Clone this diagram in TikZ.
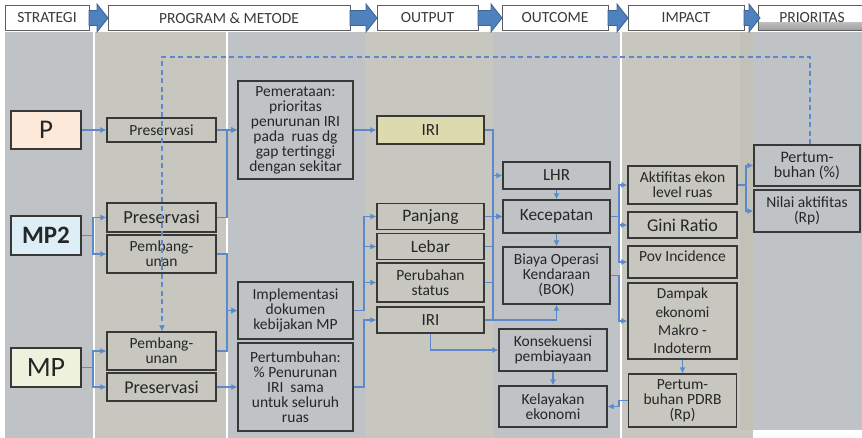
\documentclass[tikz,border=0pt]{standalone}
\usepackage{fontspec}
\setmainfont{Carlito}
\usetikzlibrary{arrows.meta}

\definecolor{colblue}{HTML}{BFC3C6}
\definecolor{colbeige}{HTML}{C7C7BF}
\definecolor{colbeigeb}{HTML}{C1C1B8}
\definecolor{boxline}{HTML}{383838}
\definecolor{txt}{HTML}{262626}
\definecolor{hdrtxt}{HTML}{3A3A3A}
\definecolor{hdrline}{HTML}{5F5F5F}
\definecolor{link}{HTML}{5A8ACB}
\definecolor{arrfill}{HTML}{4F81BD}
\definecolor{arrline}{HTML}{3A6496}
\definecolor{pfill}{HTML}{FDE9D9}
\definecolor{mptwofill}{HTML}{DDEEF6}
\definecolor{mpfill}{HTML}{EEF2DC}
\definecolor{irifill}{HTML}{DCDAAE}

\begin{document}
\begin{tikzpicture}[x=1pt,y=-1pt,
  box/.style={draw=boxline, line width=1.2pt, inner sep=0pt, align=center, text=txt,
              font=\fontsize{15.5}{15}\selectfont},
  hbox/.style={draw=hdrline, line width=1pt, fill=white, text=hdrtxt, inner sep=0pt,
               minimum height=25, font=\fontsize{15.5}{15}\selectfont},
  harrow/.style={fill=arrfill, draw=arrline, line width=0.8pt, line join=miter},
  wire/.style={draw=link, line width=1.3pt},
  conn/.style={wire, -{Latex[length=6pt,width=6pt]}},
  dconn/.style={conn, line width=1.5pt, dash pattern=on 5pt off 3.5pt}]

\useasboundingbox (0,0) rectangle (862,438);

% column bands
\fill[white] (0,0) rectangle (862,438);
\fill[colblue]  (5,32)   rectangle (92.5,438);
\fill[colbeige] (94.5,32) rectangle (225.5,438);
\fill[colblue]  (227.5,32) rectangle (365,438);
\fill[colbeige] (365,32) rectangle (493,438);
\fill[colblue]  (493,32) rectangle (620,438);
\fill[colbeige] (622,32) rectangle (753,438);
\fill[colbeigeb] (740,32) rectangle (753,430);
\fill[colblue]  (753,32) rectangle (862,430);

% header row
\node[hbox, minimum width=84]  (hStrat) at (47,18)    {STRATEGI};
\node[hbox, minimum width=242] (hProg)  at (229,18)   {PROGRAM \& METODE};
\node[hbox, minimum width=101] (hOut)   at (427.5,18) {OUTPUT};
\node[hbox, minimum width=106] (hOutc)  at (555,18)   {OUTCOME};
\node[hbox, minimum width=116] (hImp)   at (686,18)   {IMPACT};
\node[hbox, minimum width=108, path picture={
        \fill[top color=white, bottom color=black!38]
          ([yshift=8pt]path picture bounding box.south west)
          rectangle (path picture bounding box.south east);}]
     (hPrio) at (812,18) {PRIORITAS};
\foreach \a/\b in {89/108, 350/377, 478/502, 608/628, 744/760}
  \draw[harrow] (\a,10.5) -- ({\b-11},10.5) -- ({\b-11},4) -- (\b,18)
                -- ({\b-11},32) -- ({\b-11},25.5) -- (\a,25.5) -- cycle;

% strategies
\node[box, fill=pfill, minimum width=70, minimum height=38,
      font=\fontsize{27}{27}\selectfont] (sP) at (46,130) {P};
\node[box, fill=mptwofill, minimum width=70, minimum height=39,
      font=\fontsize{25}{25}\bfseries\selectfont] (sMPtwo) at (46,235.5) {MP2};
\node[box, fill=mpfill, minimum width=70, minimum height=39,
      font=\fontsize{28}{28}\selectfont] (sMP) at (46,367.5) {MP};

% programs
\node[box, minimum width=109, minimum height=24] (pPres) at (161.5,130) {Preservasi};
\node[box, minimum width=109, minimum height=29,
      font=\fontsize{18.5}{18}\selectfont] (pPresB) at (161.5,217.5) {Preservasi};
\node[box, minimum width=109, minimum height=38] (pPembB) at (161.5,254) {Pembang-\\unan};
\node[box, minimum width=109, minimum height=38] (pPembC) at (161.5,351) {Pembang-\\unan};
\node[box, minimum width=109, minimum height=28,
      font=\fontsize{18}{18}\selectfont] (pPresC) at (161.5,387) {Preservasi};

% methods
\node[box, minimum width=115, minimum height=98] (mPem) at (295.5,130)
  {Pemerataan:\\prioritas\\penurunan IRI\\pada\ \ ruas dg\\gap tertinggi\\dengan sekitar};
\node[box, minimum width=115, minimum height=57] (mImp) at (295.5,310.5)
  {Implementasi\\dokumen\\kebijakan MP};
\node[box, minimum width=115, minimum height=88] (mPert) at (295.5,387)
  {Pertumbuhan:\\\% Penurunan\\IRI\ \ sama\\untuk seluruh\\ruas};

% outputs
\node[box, fill=irifill, minimum width=107, minimum height=28,
      font=\fontsize{17}{17}\selectfont] (oIRIa) at (430.5,130) {IRI};
\node[box, minimum width=107, minimum height=26,
      font=\fontsize{17.5}{17}\selectfont] (oPanj) at (430.5,216.5) {Panjang};
\node[box, minimum width=107, minimum height=26,
      font=\fontsize{17.3}{17}\selectfont] (oLeb) at (430.5,246.5) {Lebar};
\node[box, minimum width=107, minimum height=39] (oPerub) at (430.5,282.5) {Perubahan\\status};
\node[box, minimum width=107, minimum height=26,
      font=\fontsize{17}{17}\selectfont] (oIRIb) at (430.5,320) {IRI};

% outcomes
\node[box, minimum width=107, minimum height=27,
      font=\fontsize{17}{17}\selectfont] (cLHR) at (556.5,175.5) {LHR};
\node[box, minimum width=107, minimum height=33,
      font=\fontsize{17.3}{17}\selectfont] (cKec) at (556.5,216.5) {Kecepatan};
\node[box, minimum width=107, minimum height=57] (cBOK) at (556.5,275.5)
  {Biaya Operasi\\Kendaraan\\(BOK)};
\node[box, minimum width=108, minimum height=42] (cKons) at (553,350) {Konsekuensi\\pembiayaan};
\node[box, minimum width=108, minimum height=41] (cKel) at (553,406.5) {Kelayakan\\ekonomi};

% impacts
\node[box, minimum width=109, minimum height=38] (iAkt) at (682.5,185) {Aktifitas ekon\\level ruas};
\node[box, minimum width=109, minimum height=26,
      font=\fontsize{18}{18}\selectfont] (iGini) at (682.5,225) {Gini Ratio};
\node[box, minimum width=109, minimum height=32, text height=10pt, text depth=10pt]
  (iPov) at (682.5,262) {Pov Incidence};
\node[box, minimum width=109, minimum height=76,
      font=\fontsize{15.3}{18.3}\selectfont] (iDamp) at (682.5,321)
  {Dampak\\ekonomi\\Makro -\\Indoterm};
\node[box, minimum width=108, minimum height=53] (iPDRB) at (682.5,400.5)
  {Pertum-\\buhan PDRB\\(Rp)};

% priorities
\node[box, minimum width=106, minimum height=41,
      font=\fontsize{16}{15}\selectfont] (rPert) at (807,165.5) {Pertum-\\buhan (\%)};
\node[box, minimum width=106, minimum height=42] (rNilai) at (807,211) {Nilai aktifitas\\(Rp)};

% bus lines
\coordinate (busA) at (93,0);
\coordinate (busB) at (227,0);
\coordinate (busC) at (364,0);
\coordinate (busD) at (493,0);
\coordinate (busE) at (619,0);
\coordinate (busF) at (746,0);
\coordinate (dTop) at (0,57);

% strategy -> program
\draw[conn] (sP) -- (pPres);
\draw[conn] (sMPtwo.east) -| (busA |- pPresB.west) -- (pPresB.west);
\draw[conn] (sMPtwo.east) -| (busA |- pPembB.west) -- (pPembB.west);
\draw[conn] (sMP.east) -| (busA |- pPembC.west) -- (pPembC.west);
\draw[conn] (sMP.east) -| (busA |- pPresC.west) -- (pPresC.west);

% program -> method
\draw[conn] (pPres) -- (mPem);
\draw[conn] (pPresB.east) -| (busB |- mPem.west) -- (mPem.west);
\draw[conn] (pPembB.east) -| (busB |- mImp.west) -- (mImp.west);
\draw[conn] (pPembC.east) -| (busB |- mImp.west) -- (mImp.west);
\draw[conn] (pPresC) -- (mPert);

% method -> output
\draw[conn] (mPem) -- (oIRIa);
\draw[conn] (mImp.east) -| (busC |- oPanj.west) -- (oPanj.west);
\draw[conn] (mImp.east) -| (busC |- oLeb.west) -- (oLeb.west);
\draw[conn] (mImp.east) -| (busC |- oPerub.west) -- (oPerub.west);
\draw[conn] (mPert.east) -| (busC |- oIRIb.west) -- (oIRIb.west);

% output -> outcome
\draw[conn] (oIRIa.east) -| (busD |- cLHR.west) -- (cLHR.west);
\draw[conn] (oIRIa.east) -| (busD |- cKec.west) -- (cKec.west);
\draw[conn] (oPanj) -- (cKec);
\draw[wire] (oLeb.east) -- (busD |- oLeb.east);
\draw[wire] (oPerub.east) -- (busD |- oPerub.east);
\draw[wire] (busD |- cKec.west) -- (busD |- oIRIb.east);
\draw[conn] (oIRIb.east) -| (cBOK.south);
\draw[conn] (oIRIb.south) |- (cKons.west);
\draw[conn] (cLHR) -- (cKec);
\draw[conn] (cKec) -- (cBOK);
\draw[conn] (cKons) -- (cKel);

% outcome -> impact
\draw[conn] (cKec.east) -| (busE |- iAkt.west) -- (iAkt.west);
\draw[conn] (cKec.east) -| (busE |- iGini.west) -- (iGini.west);
\draw[conn] (cKec.east) -| (busE |- iPov.west) -- (iPov.west);
\draw[conn] (cBOK.east) -| (busE |- iDamp.west) -- (iDamp.west);
\draw[conn] (iDamp) -- (iPDRB);
\draw[conn] (iPDRB.west) -| (busE |- cKel.east) -- (cKel.east);

% impact -> priority
\draw[conn] (iAkt.east) -| (busF |- rPert.west) -- (rPert.west);
\draw[conn] (iAkt.east) -| (busF |- rNilai.west) -- (rNilai.west);

% feedback loop
\draw[dconn] ([xshift=3pt]rPert.north) -- ([xshift=3pt]rPert.north |- dTop)
  -- ([xshift=0.5pt]pPembC.north |- dTop) -- ([xshift=0.5pt]pPembC.north);
\end{tikzpicture}
\end{document}
